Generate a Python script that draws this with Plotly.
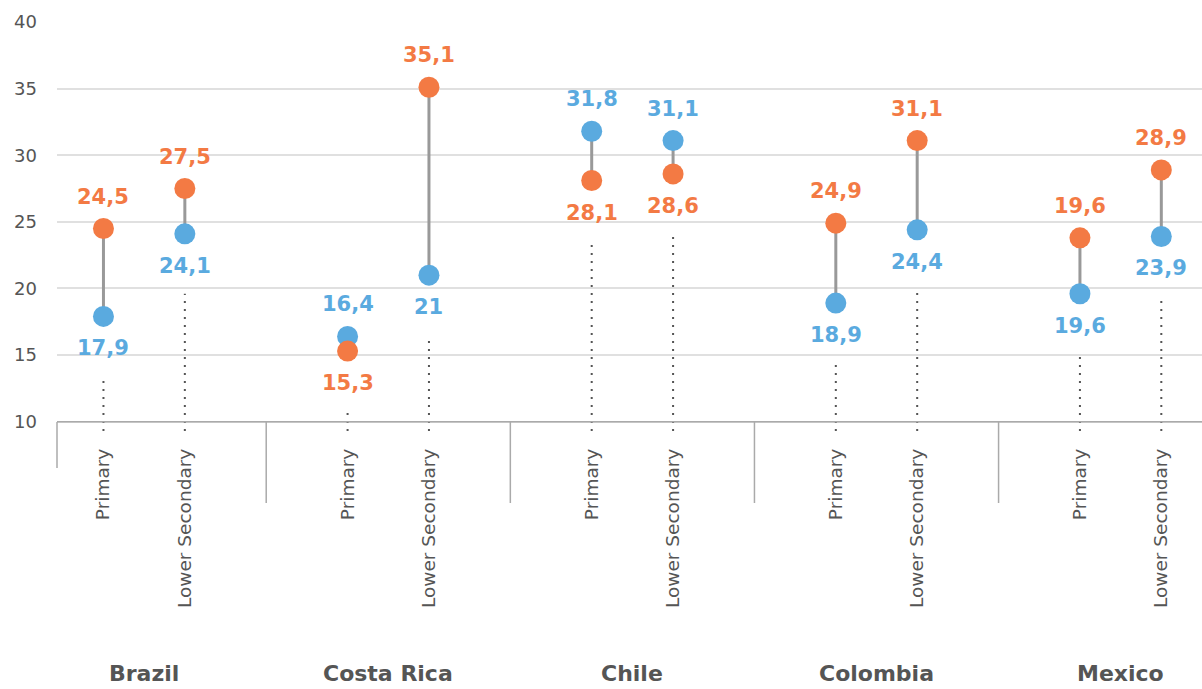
import plotly.graph_objects as go

countries = ["Brazil", "Costa Rica", "Chile", "Colombia", "Mexico"]
levels = ["Primary", "Lower Secondary"]
orange_values = [24.5, 27.5, 15.3, 35.1, 28.1, 28.6, 24.9, 31.1, 23.8, 28.9]
blue_values = [17.9, 24.1, 16.4, 21.0, 31.8, 31.1, 18.9, 24.4, 19.6, 23.9]
orange_labels = ["24,5", "27,5", "15,3", "35,1", "28,1", "28,6", "24,9", "31,1", "19,6", "28,9"]
blue_labels = ["17,9", "24,1", "16,4", "21", "31,8", "31,1", "18,9", "24,4", "19,6", "23,9"]
y_ticks = [10, 15, 20, 25, 30, 35, 40]

ORANGE = "#F37A44"
BLUE = "#5AAADF"
GRAY_TXT = "#555555"
FONT = "DejaVu Sans"
GROUP_STEP = 3
STEM_GAP = 4.5
Y_MIN, Y_MAX = 9.3, 40
X_RANGE = [-0.571, 13.5]

W, H = 1202, 689
M_L, M_R, M_T, M_B = 57, 0, 22, 258
plot_h = H - M_T - M_B


def paper_y(px):
    return (H - M_B - px) / plot_h


x_pos = [g * GROUP_STEP + s for g in range(len(countries)) for s in range(len(levels))]
tick_text = [lvl for _ in countries for lvl in levels]

fig = go.Figure()

# connectors
cx, cy = [], []
for x, o, b in zip(x_pos, orange_values, blue_values):
    cx += [x, x, None]
    cy += [o, b, None]
fig.add_trace(go.Scatter(x=cx, y=cy, mode="lines", line=dict(color="#999999", width=3),
                         hoverinfo="skip", showlegend=False))

# dotted stems
dx, dy = [], []
for x, o, b in zip(x_pos, orange_values, blue_values):
    dx += [x, x, None]
    dy += [Y_MIN, min(o, b) - STEM_GAP, None]
fig.add_trace(go.Scatter(x=dx, y=dy, mode="lines",
                         line=dict(color="#555555", width=2, dash="2px,6px"),
                         hoverinfo="skip", showlegend=False))

fig.add_trace(go.Scatter(x=x_pos, y=blue_values, mode="markers",
                         marker=dict(size=21, color=BLUE, line=dict(width=0)), showlegend=False))
fig.add_trace(go.Scatter(x=x_pos, y=orange_values, mode="markers",
                         marker=dict(size=21, color=ORANGE, line=dict(width=0)), showlegend=False))

annotations = []
for x, o, b, ot, bt in zip(x_pos, orange_values, blue_values, orange_labels, blue_labels):
    o_up = o >= b
    annotations.append(dict(x=x, y=o, text=ot, showarrow=False, yshift=32 if o_up else -32,
                            font=dict(family=FONT, size=21, color=ORANGE, weight="bold")))
    annotations.append(dict(x=x, y=b, text=bt, showarrow=False, yshift=-32 if o_up else 32,
                            font=dict(family=FONT, size=21, color=BLUE, weight="bold")))

for g, c in enumerate(countries):
    annotations.append(dict(x=g * GROUP_STEP + 0.5, xref="x", y=paper_y(688), yref="paper",
                            text=c, showarrow=False, yanchor="bottom",
                            font=dict(family=FONT, size=22, color=GRAY_TXT, weight="bold")))

shapes = [dict(type="line", xref="paper", x0=0, x1=1, yref="y", y0=10, y1=10,
               line=dict(color="#AAAAAA", width=1.5)),
          dict(type="line", xref="paper", x0=0, x1=0, yref="paper",
               y0=paper_y(422), y1=paper_y(468), line=dict(color="#AAAAAA", width=1.5))]
for g in range(1, len(countries)):
    sx = g * GROUP_STEP - 1
    shapes.append(dict(type="line", xref="x", x0=sx, x1=sx, yref="paper",
                       y0=paper_y(422), y1=paper_y(503), line=dict(color="#AAAAAA", width=1.5)))

fig.update_layout(
    width=W, height=H,
    margin=dict(l=M_L, r=M_R, t=M_T, b=M_B),
    paper_bgcolor="white", plot_bgcolor="white",
    showlegend=False,
    annotations=annotations,
    shapes=shapes,
    xaxis=dict(range=X_RANGE, tickvals=x_pos, ticktext=tick_text, tickangle=-90,
               showgrid=False, zeroline=False, showline=False, ticks="",
               ticklabelstandoff=13,
               tickfont=dict(family=FONT, size=18.5, color=GRAY_TXT)),
    yaxis=dict(range=[Y_MIN, Y_MAX], tickvals=y_ticks, showgrid=True, gridcolor="#E0E0E0",
               gridwidth=1.5, zeroline=False, showline=False, ticks="",
               ticklabelstandoff=19,
               tickfont=dict(family=FONT, size=18, color=GRAY_TXT)),
)

fig.write_html("out.html")
